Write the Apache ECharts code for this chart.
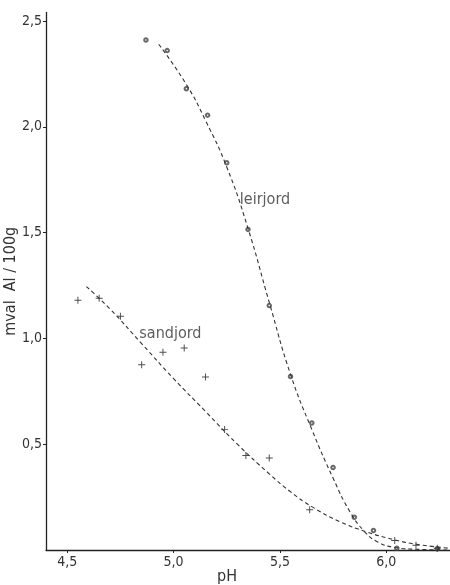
<!DOCTYPE html>
<html><head><meta charset="utf-8">
<script src="https://cdn.jsdelivr.net/npm/echarts@6/dist/echarts.min.js"></script>
<style>html,body{margin:0;padding:0;background:#fff}#c{width:450px;height:585px}</style>
</head><body><div id="c"></div>
<script>
// tick labels
const xTicks = [4.5, 5.0, 5.5, 6.0];
const yTicks = [0.5, 1.0, 1.5, 2.0, 2.5];

// measured points: leirjord (circles)
const leirjordPH = [4.87, 4.97, 5.06, 5.16, 5.25, 5.35, 5.45, 5.55, 5.65, 5.75, 5.85, 5.94, 6.05, 6.24];
const leirjordAl = [2.41, 2.36, 2.18, 2.055, 1.83, 1.515, 1.155, 0.82, 0.60, 0.39, 0.155, 0.092, 0.008, 0.006];

// measured points: sandjord (crosses)
const sandjordPH = [4.55, 4.65, 4.75, 4.85, 4.95, 5.05, 5.15, 5.24, 5.34, 5.45, 5.64, 6.04, 6.14, 6.24];
const sandjordAl = [1.18, 1.19, 1.105, 0.875, 0.935, 0.955, 0.818, 0.57, 0.447, 0.435, 0.19, 0.045, 0.022, 0.008];

// fitted dashed curves
const leirjordCurvePH = [4.93, 5.06, 5.15, 5.25, 5.35, 5.45, 5.55, 5.65, 5.75, 5.83, 5.90, 5.96, 6.04, 6.15, 6.30];
const leirjordCurveAl = [2.39, 2.20, 2.03, 1.81, 1.52, 1.17, 0.83, 0.57, 0.34, 0.18, 0.085, 0.038, 0.012, 0.003, 0.0];
const sandjordCurvePH = [4.59, 4.70, 4.85, 5.00, 5.15, 5.30, 5.45, 5.55, 5.65, 5.78, 5.91, 6.04, 6.15, 6.30];
const sandjordCurveAl = [1.245, 1.14, 0.975, 0.81, 0.655, 0.50, 0.36, 0.275, 0.205, 0.135, 0.085, 0.048, 0.026, 0.008];

// curve labels [pH, Al, text]
const curveLabels = [[5.43, 1.655, 'leirjord'], [4.985, 1.02, 'sandjord']];

const FONT = "'DejaVu Sans Condensed', 'DejaVu Sans', sans-serif";
const INK = '#333';
const zip = (a, b) => a.map((v, i) => [v, b[i]]);
const fmt = v => v.toFixed(1).replace('.', ',');

const chart = echarts.init(document.getElementById('c'), null, {renderer: 'canvas'});
chart.setOption({
  animation: false,
  backgroundColor: '#fff',
  grid: {left: 46, right: 0, top: 12.5, bottom: 35, containLabel: false, outerBoundsMode: 'none'},
  xAxis: {
    type: 'value', min: 4.4, max: 6.3,
    name: 'pH', nameLocation: 'middle', nameGap: 19, nameMoveOverlap: false,
    nameTextStyle: {fontFamily: FONT, fontSize: 16, color: INK, padding: [0, 42, 0, 0]},
    axisLine: {show: true, lineStyle: {color: '#222', width: 1.3}},
    axisTick: {show: true, length: 3, customValues: xTicks, lineStyle: {color: '#222'}},
    axisLabel: {customValues: xTicks, formatter: fmt, fontFamily: FONT, fontSize: 14, color: INK, margin: 5},
    splitLine: {show: false}
  },
  yAxis: {
    type: 'value', min: 0, max: 2.54,
    name: 'mval  Al / 100g', nameLocation: 'middle', nameGap: 27, nameRotate: 90, nameMoveOverlap: false,
    nameTextStyle: {fontFamily: FONT, fontSize: 16, color: INK},
    axisLine: {show: true, lineStyle: {color: '#222', width: 1.3}},
    axisTick: {show: true, length: 3, customValues: yTicks, lineStyle: {color: '#222'}},
    axisLabel: {customValues: yTicks, formatter: fmt, fontFamily: FONT, fontSize: 14, color: INK, margin: 4},
    splitLine: {show: false}
  },
  series: [
    {type: 'line', data: zip(leirjordCurvePH, leirjordCurveAl), smooth: 0.5, symbol: 'none',
     lineStyle: {color: INK, width: 1.1, type: [4, 3]}},
    {type: 'line', data: zip(sandjordCurvePH, sandjordCurveAl), smooth: 0.5, symbol: 'none',
     lineStyle: {color: INK, width: 1.1, type: [4, 3]}},
    {type: 'scatter', data: zip(leirjordPH, leirjordAl), symbol: 'emptyCircle', symbolSize: 3.5,
     itemStyle: {color: '#444', borderColor: '#444', borderWidth: 0.9}},
    {type: 'scatter', data: zip(sandjordPH, sandjordAl),
     symbol: 'path://M4.3,0H5.7V4.3H10V5.7H5.7V10H4.3V5.7H0V4.3H4.3Z', symbolSize: 7,
     itemStyle: {color: '#222'}},
    {type: 'scatter', data: curveLabels, symbolSize: 0, silent: true,
     label: {show: true, position: 'inside', formatter: p => p.value[2], fontFamily: FONT, fontSize: 16, color: INK}}
  ]
});
</script>
</body></html>
